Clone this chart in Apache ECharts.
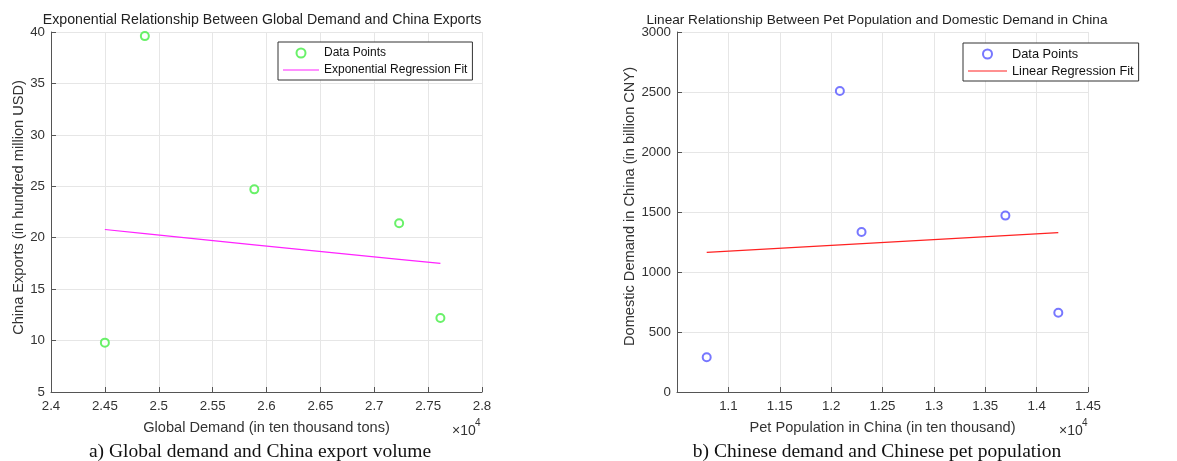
<!DOCTYPE html>
<html>
<head>
<meta charset="utf-8">
<script src="https://cdn.jsdelivr.net/npm/echarts@6/dist/echarts.min.js"></script>
<style>
html,body{margin:0;padding:0;background:#fff;}
#main{width:1177px;height:461px;}
</style>
</head>
<body>
<div id="main"></div>
<script>
// ---- Data (a): Global demand vs China exports ----
const demandX = [24500, 24871, 25887, 27231, 27614];      // ten thousand tons
const exportsY = [9.8, 39.6, 24.7, 21.4, 12.2];           // hundred million USD
const expFitX = [24500, 24871, 25887, 27231, 27614];
const expFitY = [20.8, 20.4, 19.3, 17.9, 17.5];
const xTicksA = [24000, 24500, 25000, 25500, 26000, 26500, 27000, 27500, 28000];
const yTicksA = [5, 10, 15, 20, 25, 30, 35, 40];

// ---- Data (b): Pet population vs domestic demand ----
const petX = [10789, 12085, 12296, 13696, 14211];          // ten thousand
const domesticY = [290, 2508, 1333, 1470, 661];            // billion CNY
const linFitX = [10789, 14211];
const linFitY = [1164, 1328];
const xTicksB = [10500, 11000, 11500, 12000, 12500, 13000, 13500, 14000, 14500];
const yTicksB = [0, 500, 1000, 1500, 2000, 2500, 3000];

const titles = [
  'Exponential Relationship Between Global Demand and China Exports',
  'Linear Relationship Between Pet Population and Domestic Demand in China'
];
const captions = [
  'a) Global demand and China export volume',
  'b) Chinese demand and Chinese pet population'
];
const legendLabels = {
  ptsA: 'Data Points', fitA: 'Exponential Regression Fit',
  ptsB: 'Data Points', fitB: 'Linear Regression Fit'
};

const FONT = '"Liberation Sans", Arial, sans-serif';
const axisColor = '#555555';
const labelColor = '#333333';
const gridColor = '#e6e6e6';
const LINE_ICON = 'path://M0,0L40,0L40,1.2L0,1.2Z';

function xAxisDef(gridIndex, ticks, name) {
  return {
    type: 'value', gridIndex: gridIndex,
    min: ticks[0], max: ticks[ticks.length - 1], interval: ticks[1] - ticks[0],
    name: name, nameLocation: 'middle', nameGap: 28,
    nameTextStyle: { fontFamily: FONT, fontSize: 14.6, color: labelColor },
    axisLine: { show: true, onZero: false, lineStyle: { color: axisColor, width: 1 } },
    axisTick: { show: true, inside: true, length: 5, lineStyle: { color: axisColor } },
    axisLabel: {
      fontFamily: FONT, fontSize: 13.3, color: labelColor, margin: 8,
      formatter: v => String(+(v / 10000).toFixed(2))
    },
    splitLine: { show: true, lineStyle: { color: gridColor, width: 1 } }
  };
}
function yAxisDef(gridIndex, ticks, name, gap, shift) {
  return {
    type: 'value', gridIndex: gridIndex,
    min: ticks[0], max: ticks[ticks.length - 1], interval: ticks[1] - ticks[0],
    name: name, nameLocation: 'middle', nameGap: gap,
    nameTextStyle: { fontFamily: FONT, fontSize: 14.6, color: labelColor, padding: [0, 0, 0, shift] },
    axisLine: { show: true, onZero: false, lineStyle: { color: axisColor, width: 1 } },
    axisTick: { show: true, inside: true, length: 5, lineStyle: { color: axisColor } },
    axisLabel: { fontFamily: FONT, fontSize: 13.3, color: labelColor, margin: 6, formatter: v => String(v) },
    splitLine: { show: true, lineStyle: { color: gridColor, width: 1 } }
  };
}
function legendDef(left, top, names, kinds, iconW, fontSize) {
  return {
    left: left, top: top, orient: 'vertical',
    data: names.map((n, i) => kinds[i] === 'line' ? { name: n, icon: LINE_ICON } : { name: n }),
    itemWidth: iconW, itemHeight: 9, itemGap: 3,
    padding: [4, 5, 3, 5],
    borderColor: '#333333', borderWidth: 1, backgroundColor: '#ffffff',
    selectedMode: false,
    textStyle: { fontFamily: FONT, fontSize: fontSize, color: '#111111', lineHeight: 14 },
    formatter: n => legendLabels[n]
  };
}

const xA = xAxisDef(0, xTicksA, 'Global Demand (in ten thousand tons)');
const xB = xAxisDef(1, xTicksB, 'Pet Population in China (in ten thousand)');
xB.axisLabel.showMinLabel = false;

const option = {
  animation: false,
  backgroundColor: '#ffffff',
  title: [
    { text: titles[0], left: 262, top: 13, textAlign: 'center', padding: 0,
      textStyle: { fontFamily: FONT, fontSize: 14.2, fontWeight: 'normal', color: '#222222' } },
    { text: titles[1], left: 877, top: 13, textAlign: 'center', padding: 0,
      textStyle: { fontFamily: FONT, fontSize: 13.6, fontWeight: 'normal', color: '#222222' } }
  ],
  grid: [
    { left: 51, top: 32, width: 431, height: 360 },
    { left: 677, top: 32, width: 411, height: 360 }
  ],
  xAxis: [xA, xB],
  yAxis: [
    yAxisDef(0, yTicksA, 'China Exports (in hundred million USD)', 25, 9),
    yAxisDef(1, yTicksB, 'Domestic Demand in China (in billion CNY)', 36, 11)
  ],
  legend: [
    legendDef(278, 42, ['ptsA', 'fitA'], ['pts', 'line'], 36, 12),
    legendDef(963, 43, ['ptsB', 'fitB'], ['pts', 'line'], 39, 12.8)
  ],
  series: [
    { name: 'ptsA', type: 'scatter', xAxisIndex: 0, yAxisIndex: 0,
      data: demandX.map((x, i) => [x, exportsY[i]]),
      symbol: 'emptyCircle', symbolSize: 8,
      itemStyle: { color: '#44ee44', borderColor: '#44ee44', borderWidth: 1 } },
    { name: 'fitA', type: 'line', xAxisIndex: 0, yAxisIndex: 0,
      data: expFitX.map((x, i) => [x, expFitY[i]]),
      symbol: 'none', showSymbol: false,
      lineStyle: { color: '#ff22ff', width: 1.2 }, itemStyle: { color: '#ff22ff' } },
    { name: 'ptsB', type: 'scatter', xAxisIndex: 1, yAxisIndex: 1,
      data: petX.map((x, i) => [x, domesticY[i]]),
      symbol: 'emptyCircle', symbolSize: 8,
      itemStyle: { color: '#5555ff', borderColor: '#5555ff', borderWidth: 1 } },
    { name: 'fitB', type: 'line', xAxisIndex: 1, yAxisIndex: 1,
      data: linFitX.map((x, i) => [x, linFitY[i]]),
      symbol: 'none', showSymbol: false,
      lineStyle: { color: '#ff2222', width: 1.2 }, itemStyle: { color: '#ff2222' } }
  ],
  graphic: [
    { type: 'text', left: 452, top: 424, style: { text: '×10', font: '14px ' + FONT, fill: labelColor } },
    { type: 'text', left: 475, top: 418, style: { text: '4', font: '10px ' + FONT, fill: labelColor } },
    { type: 'text', left: 1059, top: 424, style: { text: '×10', font: '14px ' + FONT, fill: labelColor } },
    { type: 'text', left: 1082, top: 418, style: { text: '4', font: '10px ' + FONT, fill: labelColor } },
    { type: 'text', x: 260, y: 452, style: { text: captions[0], font: '19.5px "Liberation Serif", "Times New Roman", serif', fill: '#111111', textAlign: 'center', textVerticalAlign: 'middle' } },
    { type: 'text', x: 877, y: 452, style: { text: captions[1], font: '19.5px "Liberation Serif", "Times New Roman", serif', fill: '#111111', textAlign: 'center', textVerticalAlign: 'middle' } }
  ]
};

const chart = echarts.init(document.getElementById('main'), null, { renderer: 'canvas' });
chart.setOption(option);
</script>
</body>
</html>
